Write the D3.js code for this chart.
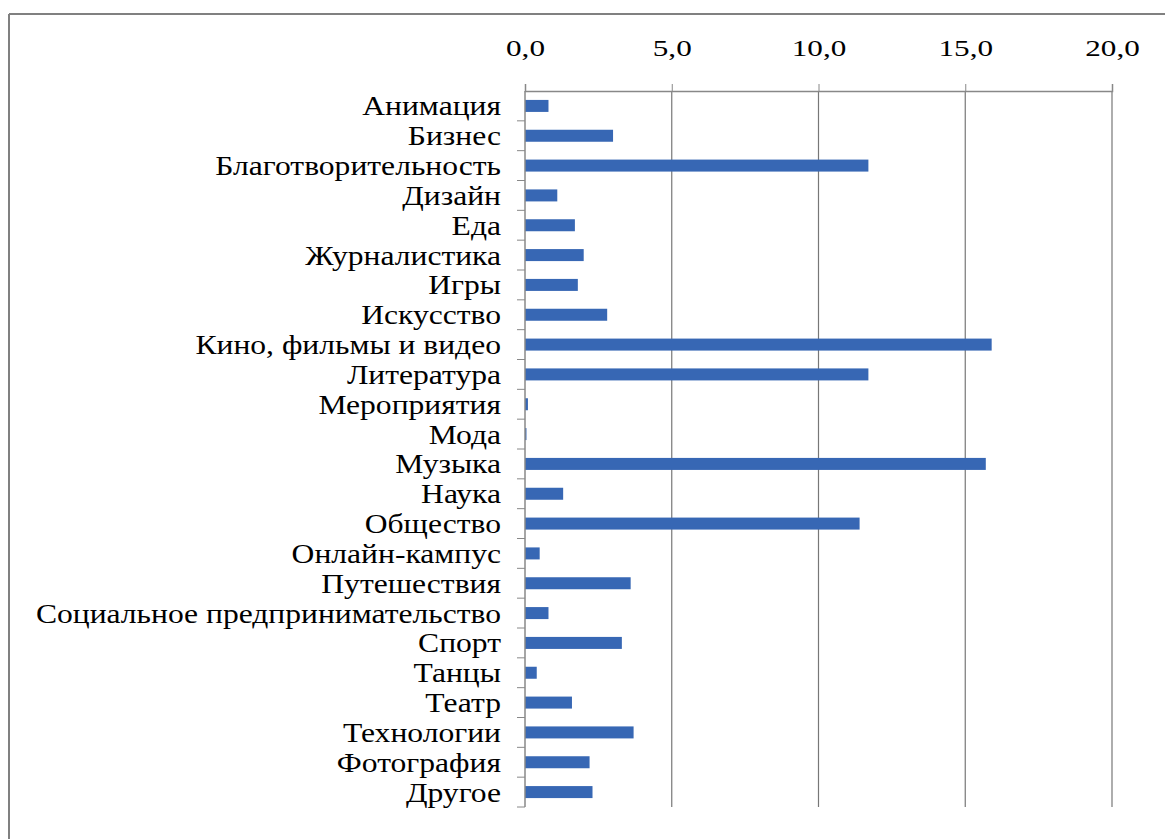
<html>
<head>
<meta charset="utf-8">
<title>Chart</title>
<script src="https://d3js.org/d3.v7.min.js"></script>
<style>
body { margin:0; background:#fff; }
text { font-family: "Liberation Serif", "DejaVu Serif", "Times New Roman", serif; fill:#000; }
</style>
</head>
<body>
<svg width="1165" height="839"></svg>
<script>
var categories = ["Анимация","Бизнес","Благотворительность","Дизайн","Еда","Журналистика","Игры","Искусство",
  "Кино, фильмы и видео","Литература","Мероприятия","Мода","Музыка","Наука","Общество","Онлайн-кампус",
  "Путешествия","Социальное предпринимательство","Спорт","Танцы","Театр","Технологии","Фотография","Другое"];
var values = [0.8,3.0,11.7,1.1,1.7,2.0,1.8,2.8,15.9,11.7,0.1,0.05,15.7,1.3,11.4,0.5,3.6,0.8,3.3,0.4,1.6,3.7,2.2,2.3];
var ticks = [0,5,10,15,20];

var svg = d3.select("svg");
// frame
svg.append("line").attr("x1",9).attr("x2",1165).attr("y1",14).attr("y2",14).attr("stroke","#808080").attr("stroke-width",2);
svg.append("line").attr("x1",9).attr("x2",9).attr("y1",14).attr("y2",839).attr("stroke","#808080").attr("stroke-width",2);

var x = d3.scaleLinear().domain([0,20]).range([525,1112]);
var yb = d3.scaleBand().domain(categories).range([91,807]);

// gridlines
svg.append("g").selectAll("line").data(ticks.slice(1)).enter().append("line")
  .attr("x1", function(d){ return x(d); }).attr("x2", function(d){ return x(d); })
  .attr("y1", 91).attr("y2", 807)
  .attr("stroke","#777").attr("stroke-width",1.2);

// top axis
var xAxis = svg.append("g").attr("transform","translate(0,91)")
  .call(d3.axisTop(x).tickValues(ticks).tickSize(7).tickPadding(0)
    .tickFormat(function(d){ return d3.format(".1f")(d).replace(".",","); }));
xAxis.select(".domain").attr("stroke","#888").attr("stroke-width",1.5);
xAxis.selectAll(".tick line").attr("stroke","#888");
xAxis.selectAll("text")
  .attr("y", null).attr("dy", null)
  .attr("transform", "translate(0,-35) scale(1.3,1)")
  .style("font-family","Liberation Serif").style("font-size","24px").attr("fill","#000");

// bars
svg.append("g").selectAll("rect").data(values).enter().append("rect")
  .attr("x", x(0))
  .attr("y", function(d,i){ return yb(categories[i]) + yb.bandwidth()/2 - 6; })
  .attr("width", function(d){ return x(d) - x(0); })
  .attr("height", 12)
  .attr("fill", "#3767b4");

// category axis
svg.append("line").attr("x1",525).attr("x2",525).attr("y1",91).attr("y2",807).attr("stroke","#888").attr("stroke-width",1.5);
var bounds = categories.map(function(c){ return yb(c) + yb.bandwidth(); });
svg.append("g").selectAll("line").data(bounds).enter().append("line")
  .attr("x1",517).attr("x2",525)
  .attr("y1",function(d){ return d; }).attr("y2",function(d){ return d; })
  .attr("stroke","#888");

svg.append("g").selectAll("text").data(categories).enter().append("text")
  .attr("transform", function(d){ return "translate(501," + (yb(d) + yb.bandwidth()/2) + ") scale(1.17,1)"; })
  .attr("dy","0.35em")
  .attr("text-anchor","end")
  .style("font-size","27px")
  .text(function(d){ return d; });
</script>
</body>
</html>
